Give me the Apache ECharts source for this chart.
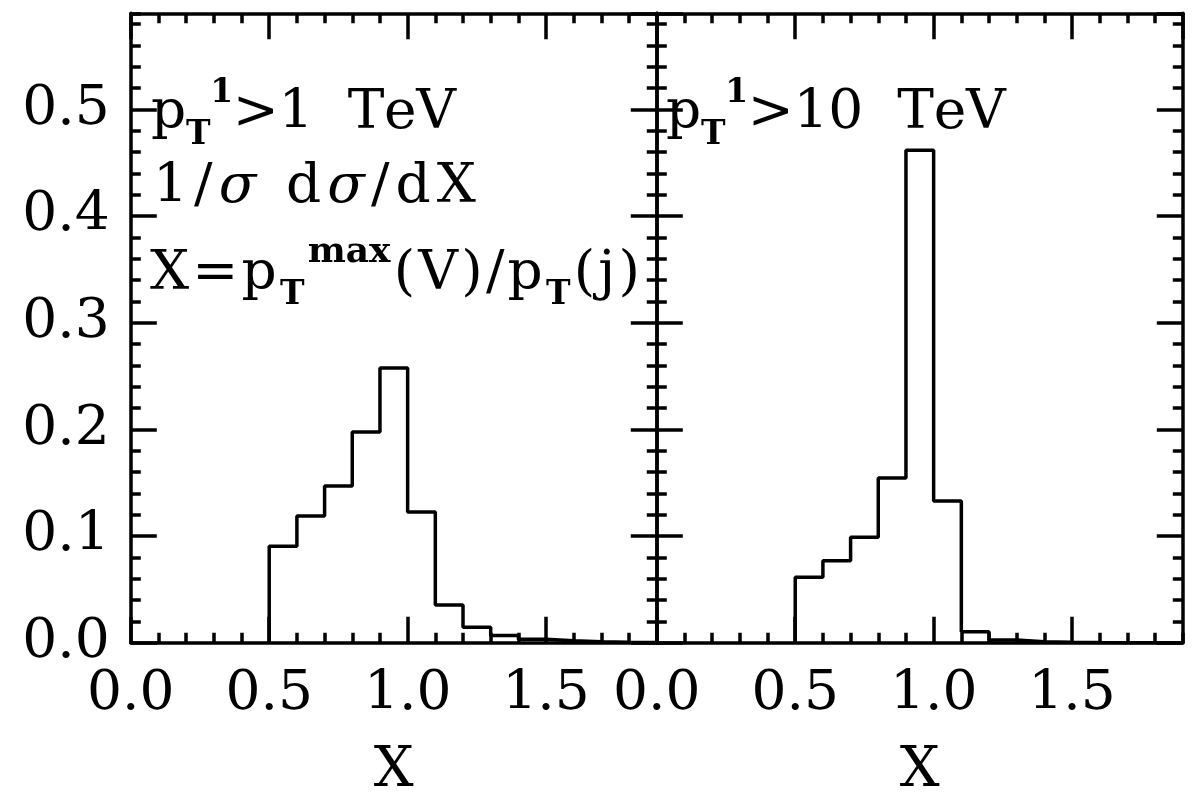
<!DOCTYPE html>
<html>
<head>
<meta charset="utf-8">
<script src="https://cdn.jsdelivr.net/npm/echarts@6/dist/echarts.min.js"></script>
<style>
  html, body { margin: 0; padding: 0; background: #fff; }
  #chart { width: 1198px; height: 795px; }
</style>
</head>
<body>
<div id="chart"></div>
<script>
// ---------------- data ----------------
const binEdges = [0.5, 0.6, 0.7, 0.8, 0.9, 1.0, 1.1, 1.2, 1.3, 1.4, 1.5, 1.6, 1.7, 1.8, 1.9];
// pT1 > 1 TeV
const leftValues = [0.0905, 0.1187, 0.1468, 0.1975, 0.2575, 0.1225, 0.0353, 0.0145, 0.0067, 0.0032, 0.0019, 0.0010, 0.0005, 0.0003];
// pT1 > 10 TeV
const rightValues = [0.0613, 0.0769, 0.0988, 0.1544, 0.4616, 0.1328, 0.0103, 0.0025, 0.0010, 0.0005, 0.0002, 0, 0, 0];
const xTickLabels = ['0.0', '0.5', '1.0', '1.5'];
const yTickLabels = ['0.0', '0.1', '0.2', '0.3', '0.4', '0.5'];
const xRange = [0, 1.9];
const yRange = [0, 0.59];
const xTitle = 'X';

// ---------------- layout / style ----------------
const FONT = 'DejaVu Serif';
const BLACK = '#000';
const LW = 3.5;
const panels = [
  { left: 130.8, top: 13.3, width: 526, height: 629.4 },
  { left: 656.8, top: 13.3, width: 526, height: 629.4 }
];

function stepData(edges, vals) {
  const pts = [[edges[0], 0]];
  for (let i = 0; i < vals.length; i++) pts.push([edges[i], vals[i]]);
  pts.push([edges[edges.length - 1], vals[vals.length - 1]]);
  pts.push([edges[edges.length - 1], 0]);
  return pts;
}

function fmtX(v) {
  const s = v.toFixed(1);
  return (xTickLabels.indexOf(s) >= 0 && Math.abs(v - parseFloat(s)) < 1e-6) ? s : '';
}
function fmtY(v) {
  const s = v.toFixed(1);
  return (yTickLabels.indexOf(s) >= 0 && Math.abs(v - parseFloat(s)) < 1e-6) ? s : '';
}

const grids = [];
const xAxes = [];
const yAxes = [];
panels.forEach((p, pi) => {
  grids.push({ left: p.left, top: p.top, width: p.width, height: p.height, containLabel: false, outerBoundsMode: 'none' });
  grids.push({ left: p.left, top: p.top, width: p.width, height: p.height, containLabel: false, outerBoundsMode: 'none' });
  const gMaj = pi * 2, gMin = pi * 2 + 1;
  const lineStyle = { color: BLACK, width: LW };
  const majTick = { show: true, inside: true, length: 26, lineStyle: { color: BLACK, width: LW } };
  const minTick = { show: true, inside: true, length: 10, lineStyle: { color: BLACK, width: LW } };
  const base = { type: 'value', splitLine: { show: false }, minorTick: { show: false } };
  xAxes.push(Object.assign({}, base, {
    gridIndex: gMaj, position: 'bottom', min: xRange[0], max: xRange[1], interval: 0.5,
    axisLine: { show: true, onZero: false, lineStyle },
    axisTick: majTick,
    axisLabel: { show: true, margin: 25, formatter: fmtX, color: BLACK, fontFamily: FONT, fontSize: 55, showMaxLabel: false },
    name: xTitle, nameLocation: 'middle', nameGap: 101,
    nameTextStyle: { color: BLACK, fontFamily: FONT, fontSize: 56 }
  }));
  xAxes.push(Object.assign({}, base, {
    gridIndex: gMaj, position: 'top', min: xRange[0], max: xRange[1], interval: 0.5,
    axisLine: { show: true, onZero: false, lineStyle },
    axisTick: majTick, axisLabel: { show: false }
  }));
  xAxes.push(Object.assign({}, base, {
    gridIndex: gMin, position: 'bottom', min: xRange[0], max: xRange[1], interval: 0.1,
    axisLine: { show: false, onZero: false }, axisTick: minTick, axisLabel: { show: false }
  }));
  xAxes.push(Object.assign({}, base, {
    gridIndex: gMin, position: 'top', min: xRange[0], max: xRange[1], interval: 0.1,
    axisLine: { show: false, onZero: false }, axisTick: minTick, axisLabel: { show: false }
  }));
  yAxes.push(Object.assign({}, base, {
    gridIndex: gMaj, position: 'left', min: yRange[0], max: yRange[1], interval: 0.1,
    axisLine: { show: true, onZero: false, lineStyle },
    axisTick: majTick,
    axisLabel: { show: pi === 0, margin: 21, formatter: fmtY, color: BLACK, fontFamily: FONT, fontSize: 55, showMaxLabel: false }
  }));
  yAxes.push(Object.assign({}, base, {
    gridIndex: gMaj, position: 'right', min: yRange[0], max: yRange[1], interval: 0.1,
    axisLine: { show: true, onZero: false, lineStyle },
    axisTick: majTick, axisLabel: { show: false }
  }));
  yAxes.push(Object.assign({}, base, {
    gridIndex: gMin, position: 'left', min: yRange[0], max: yRange[1], interval: 0.02,
    axisLine: { show: false, onZero: false }, axisTick: minTick, axisLabel: { show: false }
  }));
  yAxes.push(Object.assign({}, base, {
    gridIndex: gMin, position: 'right', min: yRange[0], max: yRange[1], interval: 0.02,
    axisLine: { show: false, onZero: false }, axisTick: minTick, axisLabel: { show: false }
  }));
});

// ---------------- annotation text (typeset with sub/superscripts) ----------------
const measureCtx = document.createElement('canvas').getContext('2d');
function fontStr(r) {
  return (r.style || 'normal') + ' ' + (r.weight || 'normal') + ' ' + r.size + 'px "' + FONT + '"';
}
function buildUnits(runs) {
  const units = [];
  runs.forEach(r => {
    measureCtx.font = fontStr(r);
    const parts = r.track ? Array.from(r.t) : [r.t];
    parts.forEach(ch => units.push({ r, ch, w: measureCtx.measureText(ch).width }));
  });
  return units;
}
function layoutLine(runs, x0, baseline, opts) {
  const units = buildUnits(runs);
  const natural = units.reduce((s, u) => s + u.w, 0);
  let track = opts.track;
  if (track === undefined) track = (opts.x1 - x0 - natural) / (units.length - 1);
  let x = x0;
  const els = [];
  units.forEach(u => {
    if (u.ch.trim() !== '') {
      els.push({
        type: 'text', silent: true,
        style: {
          text: u.ch, x: x, y: baseline + (u.r.dy || 0) - 0.346 * u.r.size,
          fill: BLACK, font: fontStr(u.r),
          textAlign: 'left', textVerticalAlign: 'middle', verticalAlign: 'middle'
        }
      });
    }
    x += u.w + track;
  });
  return { els, track };
}
const M = 55;
const line1 = (num) => [
  { t: 'p', size: M, track: true },
  { t: 'T', size: 33, dy: 13.5, weight: 'bold' },
  { t: '1', size: 33, dy: -28, weight: 'bold' },
  { t: '>' + num + '  TeV', size: M, track: true }
];
const line2 = [
  { t: '1/', size: M, track: true },
  { t: 'σ', size: M, style: 'italic' },
  { t: ' d', size: M, track: true },
  { t: 'σ', size: M, style: 'italic' },
  { t: '/dX', size: M, track: true }
];
const line3 = [
  { t: 'X=p', size: M, track: true },
  { t: 'T', size: 33, dy: 13.5, weight: 'bold' },
  { t: 'max', size: 36, dy: -28.5, weight: 'bold' },
  { t: '(V)/p', size: M, track: true },
  { t: 'T', size: 33, dy: 13.5, weight: 'bold' },
  { t: '(j)', size: M, track: true }
];
const L1 = layoutLine(line1('1'), 151, 133, { x1: 456 });
const L2 = layoutLine(line2, 153, 207, { x1: 476 });
const L3 = layoutLine(line3, 150, 293.5, { x1: 640 });
const R1 = layoutLine(line1('10'), 666, 133, { track: L1.track });
const graphics = [].concat(L1.els, L2.els, L3.els, R1.els);

const series = [
  { type: 'line', xAxisIndex: 0, yAxisIndex: 0, step: 'end', data: stepData(binEdges, leftValues),
    showSymbol: false, symbol: 'none', lineStyle: { color: BLACK, width: LW }, animation: false, silent: true },
  { type: 'line', xAxisIndex: 4, yAxisIndex: 4, step: 'end', data: stepData(binEdges, rightValues),
    showSymbol: false, symbol: 'none', lineStyle: { color: BLACK, width: LW }, animation: false, silent: true }
];

const chart = echarts.init(document.getElementById('chart'), null, { renderer: 'canvas' });
chart.setOption({
  animation: false,
  backgroundColor: '#fff',
  grid: grids,
  xAxis: xAxes,
  yAxis: yAxes,
  series: series,
  graphic: { elements: graphics }
});
</script>
</body>
</html>
